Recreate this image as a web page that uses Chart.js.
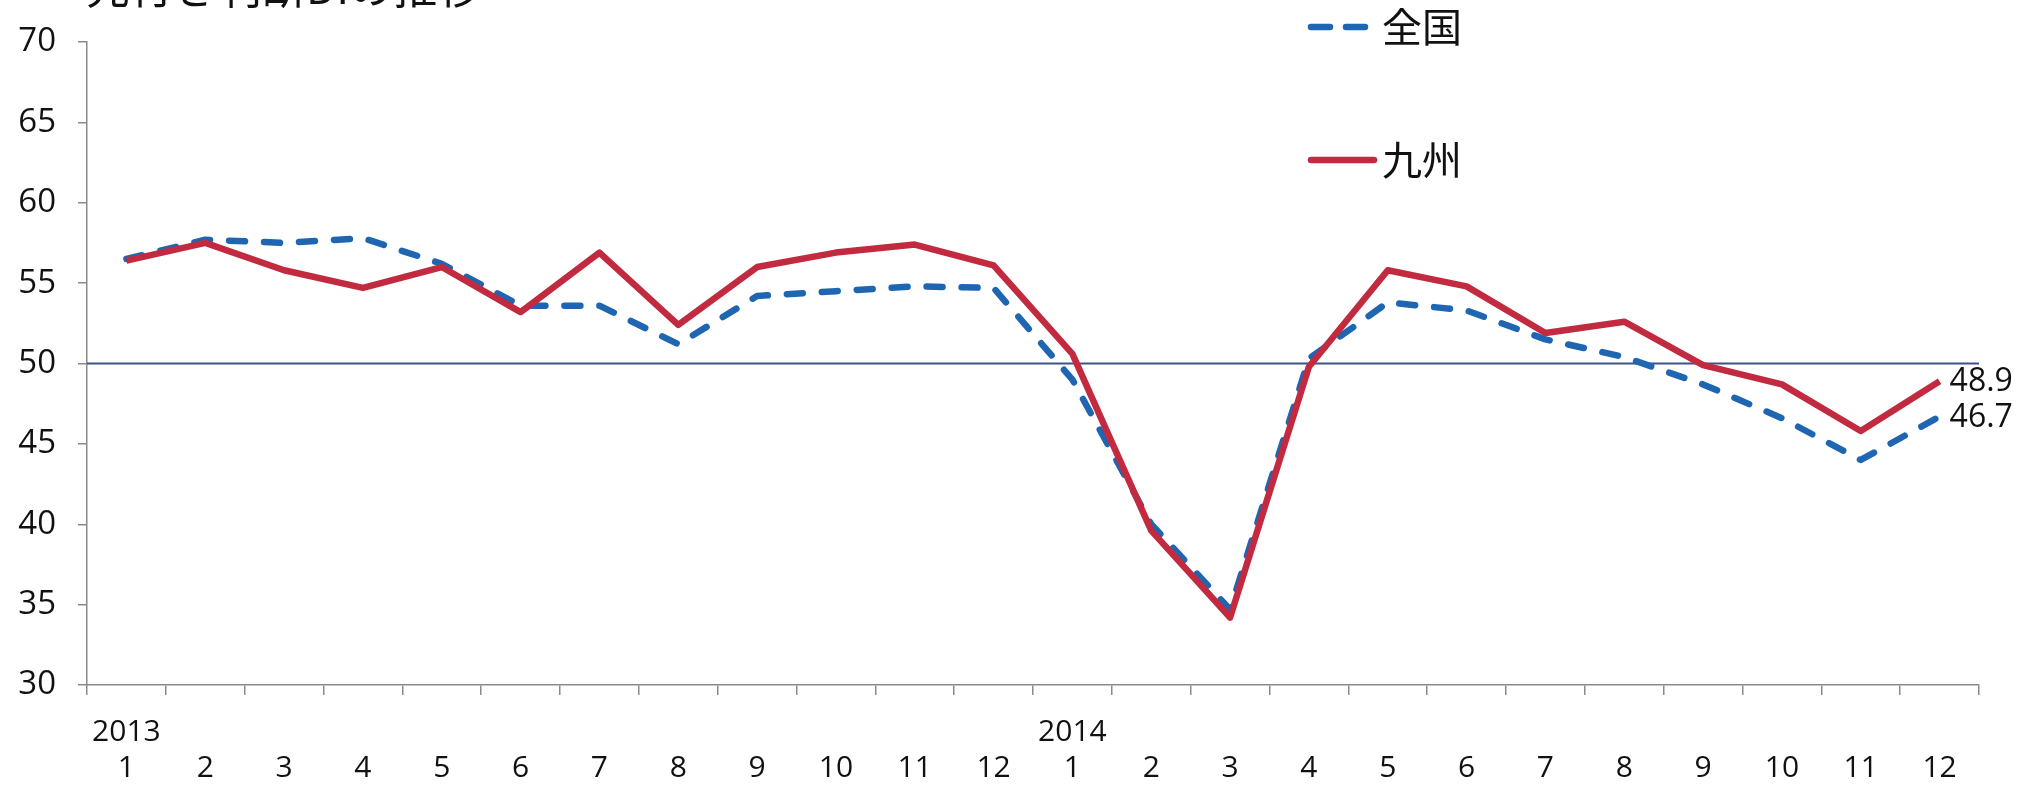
<!DOCTYPE html>
<html lang="ja">
<head>
    <meta charset="UTF-8">
    <title>先行き判断DIの推移</title>
    <script src="https://cdn.jsdelivr.net/npm/chart.js@4.4.0/dist/chart.umd.min.js"></script>
    <style>
        html, body {
            margin: 0;
            padding: 0;
            background: #fff;
            overflow: hidden;
        }
        canvas {
            display: block;
        }
    </style>
</head>
<body>
    <canvas id="diChart" width="2023" height="791"></canvas>

    <script>
        // 先行き判断DI（全国・九州）2013年1月～2014年12月
        const titleText = '先行き判断DIの推移';
        const years = ['2013', '2014'];
        const months = ['1', '2', '3', '4', '5', '6', '7', '8', '9', '10', '11', '12',
                        '1', '2', '3', '4', '5', '6', '7', '8', '9', '10', '11', '12'];
        const national = [56.5, 57.7, 57.5, 57.8, 56.2, 53.6, 53.6, 51.2, 54.2, 54.5, 54.8, 54.7,
                          49.0, 40.0, 34.7, 50.3, 53.8, 53.3, 51.5, 50.4, 48.7, 46.6, 44.0, 46.7];
        const kyushu = [56.4, 57.5, 55.8, 54.7, 56.0, 53.2, 56.9, 52.4, 56.0, 56.9, 57.4, 56.1,
                        50.6, 39.6, 34.2, 49.8, 55.8, 54.8, 51.9, 52.6, 49.9, 48.7, 45.8, 48.9];
        const yMin = 30;
        const yMax = 70;
        const yStep = 5;
        const refLevel = 50;

        // 年は各年1月の上に表示
        const labels = months.map((m, i) => [i % 12 === 0 ? years[i / 12] : '', m]);

        const tickFont = { family: 'Open Sans', size: 30, lineHeight: 1.22 };
        const axisColor = '#8a8a8a';

        // 50の基準線
        const refLinePlugin = {
            id: 'refLine',
            beforeDatasetsDraw(chart) {
                const { ctx, chartArea, scales } = chart;
                const py = scales.y.getPixelForValue(refLevel);
                ctx.save();
                ctx.strokeStyle = '#3b5488';
                ctx.lineWidth = 2;
                ctx.beginPath();
                ctx.moveTo(chartArea.left, py);
                ctx.lineTo(chartArea.right, py);
                ctx.stroke();
                ctx.restore();
            }
        };

        // 最終月の値ラベル
        const endLabelPlugin = {
            id: 'endLabel',
            afterDatasetsDraw(chart) {
                const { ctx } = chart;
                ctx.save();
                ctx.font = '32px "Open Sans"';
                ctx.fillStyle = '#111';
                ctx.textAlign = 'left';
                ctx.textBaseline = 'middle';
                chart.data.datasets.forEach((ds, i) => {
                    const meta = chart.getDatasetMeta(i);
                    const last = meta.data[meta.data.length - 1];
                    ctx.fillText(ds.data[ds.data.length - 1].toFixed(1), last.x + 10, last.y + 1);
                });
                ctx.restore();
            }
        };

        // 凡例とタイトル（上端で切れている）
        const legendPlugin = {
            id: 'customLegend',
            afterDraw(chart) {
                const { ctx } = chart;
                const rows = [27, 160];
                ctx.save();
                ctx.fillStyle = '#111';
                ctx.font = '44px "Noto Sans CJK JP"';
                ctx.textBaseline = 'alphabetic';
                ctx.textAlign = 'left';
                ctx.fillText(titleText, 86, 4);

                ctx.font = '40px "Noto Sans CJK JP"';
                ctx.textBaseline = 'middle';
                chart.data.datasets.forEach((ds, i) => {
                    const y = rows[i];
                    ctx.beginPath();
                    ctx.strokeStyle = ds.borderColor;
                    ctx.lineWidth = 6.5;
                    ctx.lineCap = 'round';
                    if (ds.borderDash) {
                        ctx.setLineDash([19, 16]);
                        ctx.moveTo(1311, y);
                        ctx.lineTo(1366, y);
                    } else {
                        ctx.setLineDash([]);
                        ctx.moveTo(1311, y);
                        ctx.lineTo(1374, y);
                    }
                    ctx.stroke();
                    ctx.setLineDash([]);
                    ctx.fillText(ds.label, 1382, y);
                });
                ctx.restore();
            }
        };

        const ctx = document.getElementById('diChart').getContext('2d');
        new Chart(ctx, {
            type: 'line',
            data: {
                labels: labels,
                datasets: [
                    {
                        label: '全国',
                        data: national,
                        borderColor: '#1f66b2',
                        borderWidth: 6.5,
                        borderDash: [16, 19],
                        borderCapStyle: 'round',
                        borderJoinStyle: 'round',
                        pointRadius: 0,
                        tension: 0,
                        fill: false,
                        order: 1
                    },
                    {
                        label: '九州',
                        data: kyushu,
                        borderColor: '#c22a40',
                        borderWidth: 6.5,
                        borderJoinStyle: 'round',
                        pointRadius: 0,
                        tension: 0,
                        fill: false,
                        order: 0
                    }
                ]
            },
            options: {
                responsive: false,
                animation: false,
                devicePixelRatio: 1,
                layout: {
                    padding: { left: 0, right: 44, top: 42, bottom: 0 }
                },
                plugins: {
                    legend: { display: false },
                    tooltip: { enabled: false },
                    title: { display: false }
                },
                scales: {
                    x: {
                        offset: true,
                        grid: {
                            offset: true,
                            drawOnChartArea: false,
                            tickLength: 10,
                            color: axisColor,
                            lineWidth: 1.5
                        },
                        border: { color: axisColor, width: 1.5 },
                        ticks: {
                            autoSkip: false,
                            maxRotation: 0,
                            color: '#111',
                            font: tickFont,
                            padding: 19
                        },
                        afterFit(scale) {
                            scale.height = 106;
                        }
                    },
                    y: {
                        min: yMin,
                        max: yMax,
                        grid: {
                            drawOnChartArea: false,
                            tickLength: 9,
                            color: axisColor,
                            lineWidth: 1.5
                        },
                        border: { color: axisColor, width: 1.5 },
                        ticks: {
                            stepSize: yStep,
                            color: '#111',
                            font: { family: 'Open Sans', size: 33 },
                            padding: 22
                        },
                        afterFit(scale) {
                            scale.width = 87;
                        }
                    }
                }
            },
            plugins: [refLinePlugin, endLabelPlugin, legendPlugin]
        });
    </script>
</body>
</html>
